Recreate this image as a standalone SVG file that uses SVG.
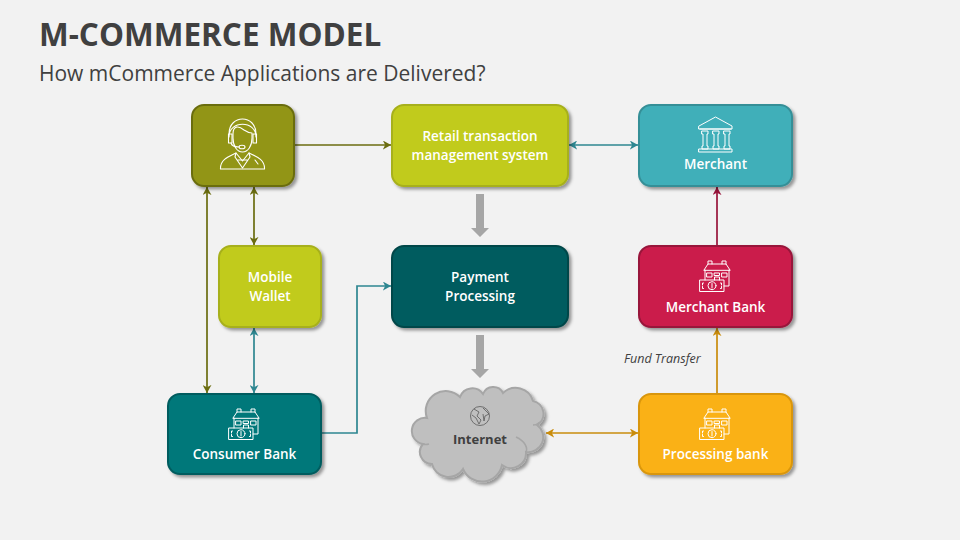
<svg xmlns="http://www.w3.org/2000/svg" xmlns:xlink="http://www.w3.org/1999/xlink" width="960" height="540" viewBox="0 0 960 540">
<style>
text{font-family:"Open Sans","Liberation Sans",sans-serif}
.lbl{font-size:13.500px;font-weight:600;fill:#fff;text-anchor:middle}
.box{stroke-width:2;filter:url(#sh)}
.ic{fill:none;stroke:#fff;stroke-width:1;stroke-linejoin:round;stroke-linecap:round}
.c{fill:none;stroke-width:1.7}
</style>
<defs>
<filter id="sh" x="-15%" y="-15%" width="135%" height="135%"><feDropShadow dx="2.500" dy="2.500" stdDeviation="1.800" flood-color="#000" flood-opacity=".38"/></filter>
<marker id="mo" viewBox="0 0 10 10" refX="9" refY="5" markerWidth="9" markerHeight="9" markerUnits="userSpaceOnUse" orient="auto-start-reverse"><path d="M0 0L9 5L0 10L2.500 5Z" fill="#6b6d10"/></marker>
<marker id="mt" viewBox="0 0 10 10" refX="9" refY="5" markerWidth="9" markerHeight="9" markerUnits="userSpaceOnUse" orient="auto-start-reverse"><path d="M0 0L9 5L0 10L2.500 5Z" fill="#2e8791"/></marker>
<marker id="mr" viewBox="0 0 10 10" refX="9" refY="5" markerWidth="9" markerHeight="9" markerUnits="userSpaceOnUse" orient="auto-start-reverse"><path d="M0 0L9 5L0 10L2.500 5Z" fill="#98143a"/></marker>
<marker id="my" viewBox="0 0 10 10" refX="9" refY="5" markerWidth="9" markerHeight="9" markerUnits="userSpaceOnUse" orient="auto-start-reverse"><path d="M0 0L9 5L0 10L2.500 5Z" fill="#c98c0c"/></marker>
<g id="bank" class="ic">
<path d="M4 10L8 4H26L30 10ZM5 10V20M29 10V26H24"/>
<path d="M8 4V1H12V4M22 4V1H26V4"/>
<path d="M7 13H12V17H7ZM14.500 13H19.500V15.500H14.500ZM22 13H27V17H22ZM14.500 20V17H19.500V20"/>
<rect x="0" y="20" width="24" height="11.500"/>
<circle cx="12" cy="25.700" r="4"/>
<path d="M12 23.500V28M3.500 23H2.500V25M20.500 23H21.500V25M3.500 28.500H2.500V26.500M20.500 28.500H21.500V26.500"/>
</g>
</defs>
<rect width="960" height="540" fill="#f2f2f2"/>
<text x="39" y="46" font-size="31.500" font-weight="700" fill="#404040">M-COMMERCE MODEL</text>
<text x="39" y="81" font-size="21" fill="#404040">How mCommerce Applications are Delivered?</text>
<g id="connectors">
<path class="c" stroke="#6b6d10" d="M295 145H391" marker-end="url(#mo)"/>
<path class="c" stroke="#2e8791" d="M569 145H638" marker-start="url(#mt)" marker-end="url(#mt)"/>
<path class="c" stroke="#6b6d10" d="M207 187V393" marker-start="url(#mo)" marker-end="url(#mo)"/>
<path class="c" stroke="#6b6d10" d="M254 187V245" marker-start="url(#mo)" marker-end="url(#mo)"/>
<path class="c" stroke="#2e8791" d="M254 328V393" marker-start="url(#mt)" marker-end="url(#mt)"/>
<path class="c" stroke="#2e8791" d="M322 433H357V286H391" marker-end="url(#mt)"/>
<path class="c" stroke="#98143a" d="M717 245V187" marker-end="url(#mr)"/>
<path class="c" stroke="#c98c0c" d="M717 393V328" marker-end="url(#my)"/>
<path class="c" stroke="#c98c0c" d="M546 433H638" marker-start="url(#my)" marker-end="url(#my)"/>
<path fill="#a6a6a6" d="M476 194H484V228H489L480 237L471 228H476Z"/>
<path fill="#a6a6a6" d="M476 335H484V369H489L480 378L471 369H476Z"/>
</g>
<g id="agent">
<rect class="box" x="192" y="105" width="102" height="81" rx="12" fill="#929518" stroke="#6b6d10"/>
<g class="ic">
<path d="M229 137V134C229 114 256 114 256 134V137C256 120 229 120 229 137Z" stroke-width="1.100"/>
<path d="M233 134C233 126 238 125 244 130C247 132 250 133 252 133V138C252 146 248 152 242.500 152C237 152 233 146 233 138Z" stroke-width="1.100"/>
<path d="M228.500 134H232V143H228.500ZM253 134H256.500V143H253Z" stroke-width="1.100"/>
<path d="M231 143Q232 147 239 147" stroke-width="1.100"/>
<ellipse cx="242" cy="147" rx="3" ry="1.800" stroke-width="1.100"/>
<path d="M220.500 169C220 159 230 156 236 153L242.500 161L249 153C255 156 265 159 264.500 169Z" stroke-width="1.100"/>
<path d="M236 153L235 157L242.500 168L250 157L249 153M238 160H247" stroke-width="1.100"/>
<path d="M255 160L258 164" stroke-width="1.100"/>
</g>
</g>
<g id="retail">
<rect class="box" x="392" y="105" width="176" height="81" rx="12" fill="#c1cb1f" stroke="#a7b01a"/>
<text class="lbl" x="480" y="141">Retail transaction</text>
<text class="lbl" x="480" y="160">management system</text>
</g>
<g id="merchant">
<rect class="box" x="639" y="105" width="153" height="81" rx="12" fill="#40afb9" stroke="#358f97"/>
<g class="ic">
<path d="M699 126L715.500 117L732 126V129H699ZM700 129H731"/>
<path d="M702 131H708V134H707V146H708V149H702V146H703V134H702ZM713 131H719V134H718V146H719V149H713V146H714V134H713ZM724 131H730V134H729V146H730V149H724V146H725V134H724Z"/>
<path d="M699 149H732V152H699Z"/>
</g>
<text class="lbl" x="715.500" y="169">Merchant</text>
</g>
<g id="wallet">
<rect class="box" x="219" y="246" width="102" height="81" rx="12" fill="#c1cb1f" stroke="#a7b01a"/>
<text class="lbl" x="270" y="282">Mobile</text>
<text class="lbl" x="270" y="301">Wallet</text>
</g>
<g id="payment">
<rect class="box" x="392" y="246" width="176" height="81" rx="12" fill="#005c5e" stroke="#004648"/>
<text class="lbl" x="480" y="282">Payment</text>
<text class="lbl" x="480" y="301">Processing</text>
</g>
<g id="merchant-bank">
<rect class="box" x="639" y="246" width="153" height="81" rx="12" fill="#cb1d4c" stroke="#98143a"/>
<use xlink:href="#bank" href="#bank" x="700" y="260"/>
<text class="lbl" x="715.500" y="312">Merchant Bank</text>
</g>
<g id="consumer-bank">
<rect class="box" x="168" y="394" width="153" height="80" rx="12" fill="#00787a" stroke="#005c5e"/>
<use xlink:href="#bank" href="#bank" x="229" y="408"/>
<text class="lbl" x="244.500" y="459">Consumer Bank</text>
</g>
<g id="processing-bank">
<rect class="box" x="639" y="394" width="153" height="80" rx="12" fill="#fab114" stroke="#d9960c"/>
<use xlink:href="#bank" href="#bank" x="700" y="408"/>
<text class="lbl" x="715.500" y="459">Processing bank</text>
</g>
<g id="internet">
<path class="box" stroke-width="2.500" fill="#bfbfbf" stroke="#a6a6a6" d="M427 418A20 20 0 0 1 460 397A13 13 0 0 1 483 394A11 11 0 0 1 503 393A18 18 0 0 1 533 401A13 13 0 0 1 537 425A15 15 0 0 1 526 452A15 15 0 0 1 502 465A20.500 20.500 0 0 1 463 469A17 17 0 0 1 432 464A12 12 0 0 1 423 444A13 13 0 0 1 427 418Z"/>
<path fill="none" stroke="#a6a6a6" stroke-width="1.500" d="M423 444Q425 445 429 444M516 437C525 441 528 448 526 452M533 425Q537 425 540 422"/>
<g fill="none" stroke="#595959" stroke-width=".8">
<circle cx="480" cy="416" r="9.500"/>
<path d="M474 409L479 412L477 416L481 420L479 424L476 418L472 415M483 408L486 411L489 414L485 416L484 421L483 414"/>
</g>
<text x="480" y="444" font-size="13" font-weight="700" fill="#404040" text-anchor="middle">Internet</text>
</g>
<text x="624" y="363" font-size="12.500" font-style="italic" fill="#404040">Fund Transfer</text>
</svg>
